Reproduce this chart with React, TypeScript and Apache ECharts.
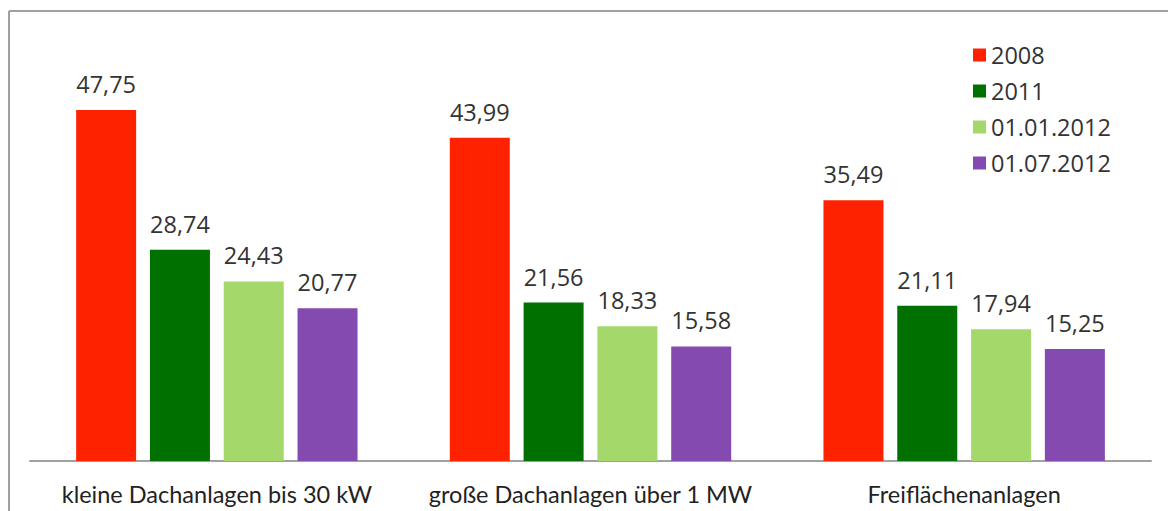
import React, { useEffect, useRef } from "react";
import * as echarts from "echarts";

const categories = ["kleine Dachanlagen bis 30 kW", "große Dachanlagen über 1 MW", "Freiflächenanlagen"];
const seriesNames = ["2008", "2011", "01.01.2012", "01.07.2012"];
const values2008 = [47.75, 43.99, 35.49];
const values2011 = [28.74, 21.56, 21.11];
const valuesJan2012 = [24.43, 18.33, 17.94];
const valuesJul2012 = [20.77, 15.58, 15.25];
const colors = ["#ff2200", "#007000", "#a4d86a", "#854ab0"];

export default function App() {
  const ref = useRef<HTMLDivElement>(null);
  useEffect(() => {
    document.body.style.margin = "0";
    const chart = echarts.init(ref.current!, null, { renderer: "svg" });
    const allValues = [values2008, values2011, valuesJan2012, valuesJul2012];
    const font = "'Open Sans', 'Noto Sans', sans-serif";
    chart.setOption({
      animation: false,
      textStyle: { fontFamily: font },
      grid: { left: 30, right: 17, top: 20, bottom: 50 },
      legend: {
        orient: "vertical",
        left: 968,
        top: 38,
        itemWidth: 13,
        itemHeight: 13,
        itemGap: 12,
        icon: "rect",
        textStyle: { fontSize: 23.5, color: "#333", fontFamily: font, lineHeight: 24 },
        data: seriesNames,
      },
      xAxis: {
        type: "category",
        data: categories,
        axisLine: { lineStyle: { color: "#a0a0a0", width: 2 } },
        axisTick: { show: false },
        axisLabel: { interval: 0, fontSize: 23.5, color: "#222", margin: 21, fontFamily: "Lato, 'Open Sans', sans-serif" },
      },
      yAxis: { type: "value", min: 0, max: 60, show: false },
      series: seriesNames.map((name, i) => ({
        name,
        type: "bar",
        data: allValues[i],
        barWidth: 60,
        barGap: "23%",
        itemStyle: { color: colors[i] },
        label: {
          show: true,
          position: "top",
          distance: 14,
          fontSize: 23.5,
          color: "#333",
          fontFamily: font,
          formatter: (p: any) => p.value.toFixed(2).replace(".", ","),
        },
      })),
      graphic: [
        { type: "line", shape: { x1: 9, y1: 11, x2: 1168, y2: 11 }, style: { stroke: "#a0a0a0", lineWidth: 2 } },
        { type: "line", shape: { x1: 9, y1: 11, x2: 9, y2: 511 }, style: { stroke: "#a0a0a0", lineWidth: 2 } },
      ],
    });
    return () => chart.dispose();
  }, []);
  return <div ref={ref} style={{ width: 1168, height: 511 }} />;
}
